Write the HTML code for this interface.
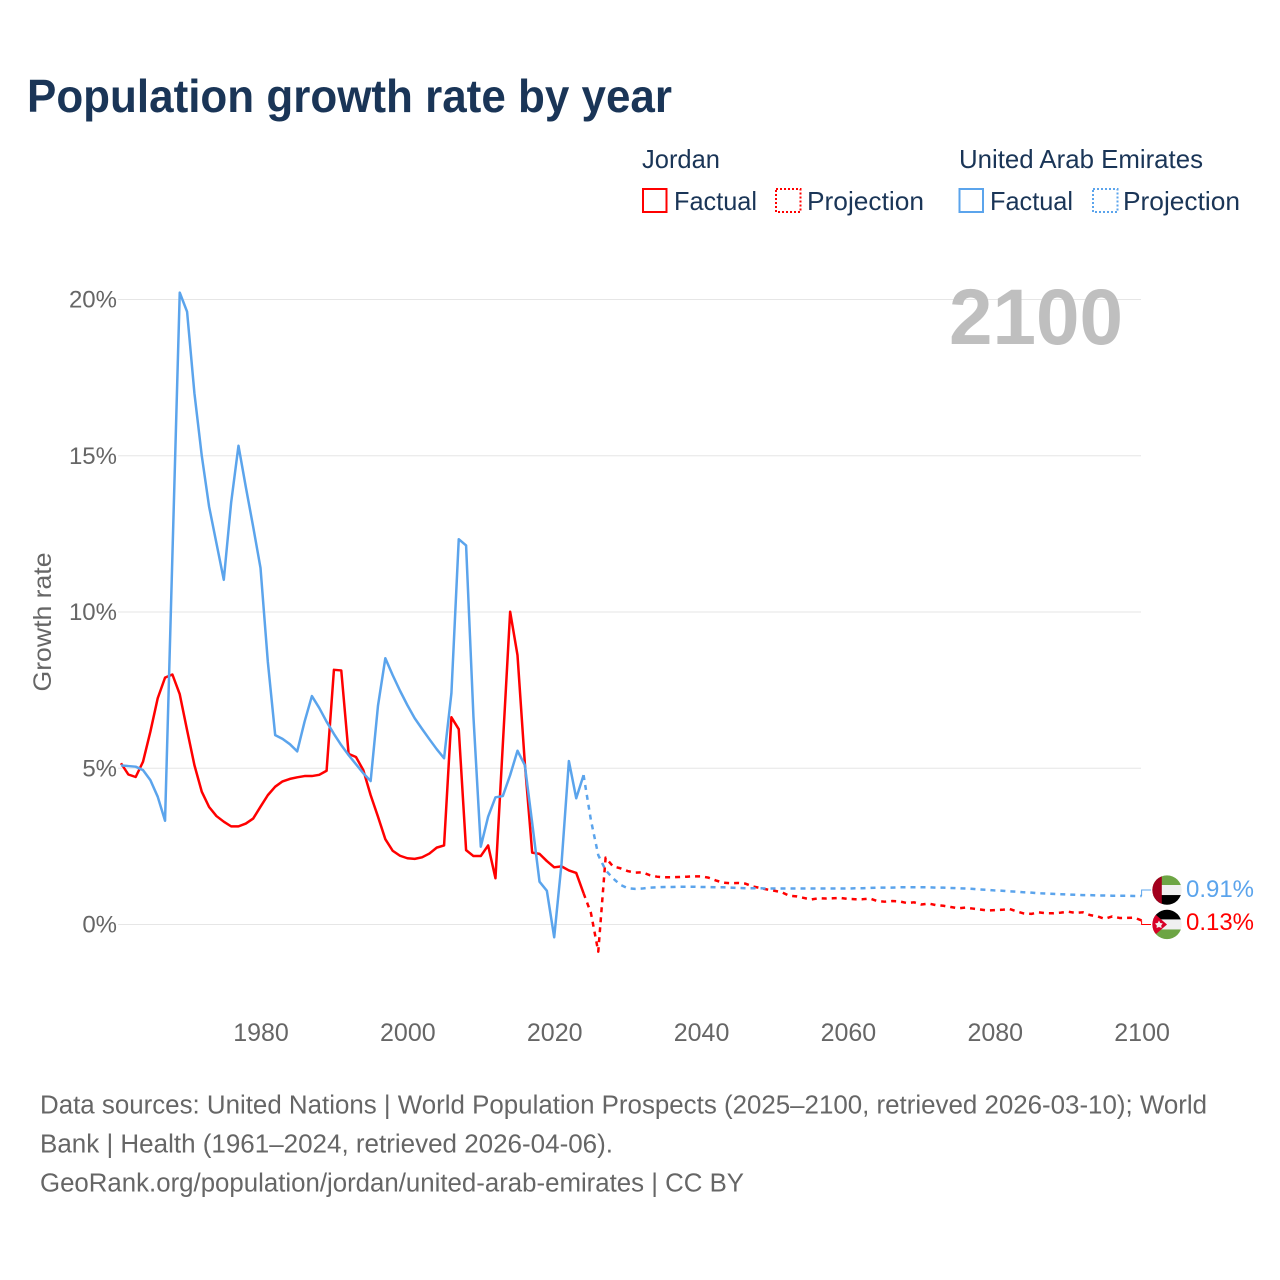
<!DOCTYPE html>
<html lang="en">
<head>
<meta charset="utf-8">
<title>Population growth rate by year</title>
<style>
html,body{margin:0;padding:0;background:#fff}
svg{display:block}
text{font-family:"Liberation Sans",sans-serif}
</style>
</head>
<body>
<svg id="chart" xmlns="http://www.w3.org/2000/svg" width="1280" height="1280" viewBox="0 0 1280 1280">
  <rect width="1280" height="1280" fill="#fff"/>
  <text x="27" y="112" font-size="46" font-weight="700" fill="#1a3557" textLength="645" lengthAdjust="spacingAndGlyphs">Population growth rate by year</text>

  <g fill="#1a3557" font-size="26">
    <text x="642" y="168" textLength="78" lengthAdjust="spacingAndGlyphs">Jordan</text>
    <rect x="643" y="189" width="23.5" height="23" fill="none" stroke="#ff0000" stroke-width="2"/>
    <text x="674" y="210" textLength="83" lengthAdjust="spacingAndGlyphs">Factual</text>
    <rect x="776" y="189" width="24.5" height="23" fill="none" stroke="#ff0000" stroke-width="2" stroke-dasharray="2 2"/>
    <text x="807" y="210" textLength="117" lengthAdjust="spacingAndGlyphs">Projection</text>
    <text x="959" y="168" textLength="244" lengthAdjust="spacingAndGlyphs">United Arab Emirates</text>
    <rect x="959.5" y="189" width="23.5" height="23" fill="none" stroke="#5ba4ec" stroke-width="2"/>
    <text x="990" y="210" textLength="83" lengthAdjust="spacingAndGlyphs">Factual</text>
    <rect x="1093" y="189" width="24.5" height="23" fill="none" stroke="#5ba4ec" stroke-width="2" stroke-dasharray="2 2"/>
    <text x="1123" y="210" textLength="117" lengthAdjust="spacingAndGlyphs">Projection</text>
  </g>

  <text transform="translate(51,622) rotate(-90)" text-anchor="middle" font-size="25" fill="#666" textLength="139" lengthAdjust="spacingAndGlyphs">Growth rate</text>
  <g id="grid"></g>
  <g id="yticks"></g>
  <g id="xticks"></g>
  <text x="949" y="344" font-size="79" font-weight="700" fill="#bfbfbf" textLength="174" lengthAdjust="spacingAndGlyphs">2100</text>
  <g id="series"></g>

  <defs>
    <clipPath id="uae-clip"><circle cx="0" cy="0" r="14.7"/></clipPath>
    <clipPath id="jor-clip"><circle cx="0" cy="0" r="14.7"/></clipPath>
  </defs>
  <g id="flag-uae" clip-path="url(#uae-clip)">
    <rect x="-15" y="-15" width="30" height="10" fill="#6da544"/>
    <rect x="-15" y="-5" width="30" height="10" fill="#f0f0f0"/>
    <rect x="-15" y="5" width="30" height="10" fill="#000"/>
    <rect x="-15" y="-15" width="9.8" height="30" fill="#a2001d"/>
  </g>
  <g id="flag-jor" clip-path="url(#jor-clip)">
    <rect x="-15" y="-15" width="30" height="10" fill="#000"/>
    <rect x="-15" y="-5" width="30" height="10" fill="#f0f0f0"/>
    <rect x="-15" y="5" width="30" height="10" fill="#6da544"/>
    <polygon points="-15,-13 0,0 -15,13" fill="#d80027"/>
    <polygon points="-8,-4 -6.8,-1.6 -4.2,-1 -5.8,1 -5.4,3.6 -8,2.6 -10.4,3.6 -10.2,1 -12,-1 -9.2,-1.6" fill="#f0f0f0"/>
  </g>
  <text id="label-uae" x="1186" font-size="24.5" fill="#5ba4ec" textLength="68" lengthAdjust="spacingAndGlyphs"></text>
  <text id="label-jor" x="1186" font-size="24.5" fill="#ff0000" textLength="68" lengthAdjust="spacingAndGlyphs"></text>

  <g font-size="25.5" fill="#666">
    <text x="40" y="1113.5" textLength="1167" lengthAdjust="spacingAndGlyphs">Data sources: United Nations | World Population Prospects (2025–2100, retrieved 2026-03-10); World</text>
    <text x="40" y="1152.5" textLength="573" lengthAdjust="spacingAndGlyphs">Bank | Health (1961–2024, retrieved 2026-04-06).</text>
    <text x="40" y="1191.5" textLength="704" lengthAdjust="spacingAndGlyphs">GeoRank.org/population/jordan/united-arab-emirates | CC BY</text>
  </g>
</svg>
<script>
const xTickYears = [1980, 2000, 2020, 2040, 2060, 2080, 2100];
const yTickValues = [0, 5, 10, 15, 20];
const factualStartYear = 1961;
const projectionStartYear = 2024;
const jordanFactual = [5.16,4.80,4.72,5.21,6.17,7.24,7.90,8.00,7.37,6.22,5.10,4.25,3.76,3.47,3.29,3.14,3.14,3.23,3.39,3.77,4.14,4.41,4.58,4.66,4.71,4.75,4.75,4.79,4.92,8.15,8.13,5.46,5.36,4.94,4.14,3.45,2.73,2.36,2.20,2.12,2.10,2.15,2.27,2.46,2.53,6.63,6.25,2.38,2.19,2.19,2.53,1.48,5.75,10.01,8.62,5.16,2.30,2.26,2.03,1.83,1.86,1.73,1.65,1.00];
const uaeFactual = [5.09,5.07,5.05,4.94,4.62,4.09,3.32,11.8,20.22,19.61,17.0,15.0,13.37,12.2,11.03,13.5,15.32,14.0,12.73,11.41,8.4,6.06,5.94,5.77,5.54,6.49,7.31,6.93,6.49,6.10,5.74,5.42,5.13,4.84,4.59,7.0,8.52,7.98,7.48,7.02,6.60,6.26,5.93,5.61,5.32,7.40,12.33,12.13,6.65,2.49,3.45,4.07,4.11,4.78,5.56,5.10,3.25,1.37,1.08,-0.41,1.96,5.23,4.04,4.78];
const jordanProjection = [1.00,0.37,-0.87,2.14,1.86,1.80,1.71,1.66,1.67,1.58,1.53,1.51,1.51,1.52,1.53,1.54,1.54,1.50,1.41,1.34,1.32,1.33,1.31,1.22,1.17,1.12,1.08,1.03,0.92,0.90,0.85,0.80,0.84,0.83,0.84,0.85,0.82,0.81,0.81,0.83,0.75,0.73,0.75,0.74,0.69,0.71,0.64,0.67,0.62,0.60,0.56,0.52,0.54,0.51,0.48,0.45,0.46,0.47,0.50,0.42,0.35,0.34,0.39,0.36,0.36,0.38,0.41,0.37,0.39,0.30,0.26,0.18,0.26,0.21,0.21,0.22,0.13];
const uaeProjection = [4.78,3.34,2.22,1.74,1.48,1.27,1.16,1.14,1.15,1.18,1.19,1.20,1.20,1.21,1.21,1.21,1.20,1.20,1.19,1.19,1.18,1.17,1.16,1.16,1.16,1.15,1.15,1.15,1.15,1.15,1.15,1.15,1.15,1.15,1.15,1.15,1.15,1.16,1.16,1.17,1.18,1.18,1.18,1.19,1.19,1.19,1.19,1.19,1.18,1.18,1.17,1.16,1.15,1.14,1.12,1.11,1.09,1.08,1.06,1.05,1.03,1.02,1.00,0.99,0.98,0.97,0.96,0.95,0.94,0.94,0.93,0.93,0.92,0.92,0.92,0.91,0.91];

const NS = 'http://www.w3.org/2000/svg';
const xScale = function (year) { return 121 + (year - 1961) * (1020.6 / 139); };
const yScale = function (value) { return 924.5 - value * 31.25; };
const makePath = function (values, startYear) {
  return values.map(function (v, i) {
    return (i ? 'L' : 'M') + xScale(startYear + i).toFixed(2) + ' ' + yScale(v).toFixed(2);
  }).join(' ');
};
const svgEl = function (tag, parent) {
  const el = document.createElementNS(NS, tag);
  parent.appendChild(el);
  return el;
};

const gridGroup = document.getElementById('grid');
const yTickGroup = document.getElementById('yticks');
yTickValues.forEach(function (v) {
  const line = svgEl('line', gridGroup);
  
  
  line.setAttribute('x1', 118);
  line.setAttribute('x2', 1141);
  line.setAttribute('y1', yScale(v));
  line.setAttribute('y2', yScale(v));
  line.setAttribute('stroke', '#e6e6e6');
  line.setAttribute('stroke-width', '1');
  const label = svgEl('text', yTickGroup);
  
  
  label.setAttribute('x', 117);
  label.setAttribute('y', yScale(v) + 8);
  label.setAttribute('text-anchor', 'end');
  label.setAttribute('font-size', '24');
  label.setAttribute('fill', '#666');
  label.textContent = v + '%';
});

const xTickGroup = document.getElementById('xticks');
xTickYears.forEach(function (yr) {
  const label = svgEl('text', xTickGroup);
  
  
  label.setAttribute('x', xScale(yr) + 0.5);
  label.setAttribute('y', 1041);
  label.setAttribute('text-anchor', 'middle');
  label.setAttribute('font-size', '25');
  label.setAttribute('fill', '#666');
  label.textContent = yr;
});

const seriesGroup = document.getElementById('series');
const lineStyle = function (el, d, color, dashed) {
  el.setAttribute('d', d);
  el.setAttribute('fill', 'none');
  el.setAttribute('stroke', color);
  el.setAttribute('stroke-width', '2.5');
  el.setAttribute('stroke-linejoin', 'round');
  if (dashed) el.setAttribute('stroke-dasharray', '5 5');
};
const RED = '#ff0000';
const BLUE = '#5ba4ec';

const jordanProjLine = svgEl('path', seriesGroup);


lineStyle(jordanProjLine, makePath(jordanProjection, projectionStartYear), RED, true);

const jordanLine = svgEl('path', seriesGroup);


lineStyle(jordanLine, makePath(jordanFactual, factualStartYear), RED, false);

const uaeProjLine = svgEl('path', seriesGroup);


lineStyle(uaeProjLine, makePath(uaeProjection, projectionStartYear), BLUE, true);

const uaeLine = svgEl('path', seriesGroup);


lineStyle(uaeLine, makePath(uaeFactual, factualStartYear), BLUE, false);

const uaeEnd = uaeProjection[uaeProjection.length - 1];
const jorEnd = jordanProjection[jordanProjection.length - 1];
const midY = (yScale(uaeEnd) + yScale(jorEnd)) / 2 - 1;
const uaeY = midY - 17.2;
const jorY = midY + 17.2;
const endX = xScale(2100);

const uaeConnector = svgEl('path', seriesGroup);


uaeConnector.setAttribute('d', 'M' + endX + ' ' + yScale(uaeEnd) + ' V' + uaeY + ' H1151');
uaeConnector.setAttribute('fill', 'none');
uaeConnector.setAttribute('stroke', BLUE);
uaeConnector.setAttribute('stroke-width', '1');

const jorConnector = svgEl('path', seriesGroup);


jorConnector.setAttribute('d', 'M' + endX + ' ' + yScale(jorEnd) + ' V' + jorY + ' H1151');
jorConnector.setAttribute('fill', 'none');
jorConnector.setAttribute('stroke', RED);
jorConnector.setAttribute('stroke-width', '1');

document.getElementById('flag-uae').setAttribute('transform', 'translate(1167,' + uaeY + ')');
document.getElementById('flag-jor').setAttribute('transform', 'translate(1167,' + jorY + ')');
const labelUae = document.getElementById('label-uae');
labelUae.setAttribute('y', uaeY + 7);
labelUae.textContent = uaeEnd.toFixed(2) + '%';
const labelJor = document.getElementById('label-jor');
labelJor.setAttribute('y', jorY + 5.5);
labelJor.textContent = jorEnd.toFixed(2) + '%';
</script>
</body>
</html>
